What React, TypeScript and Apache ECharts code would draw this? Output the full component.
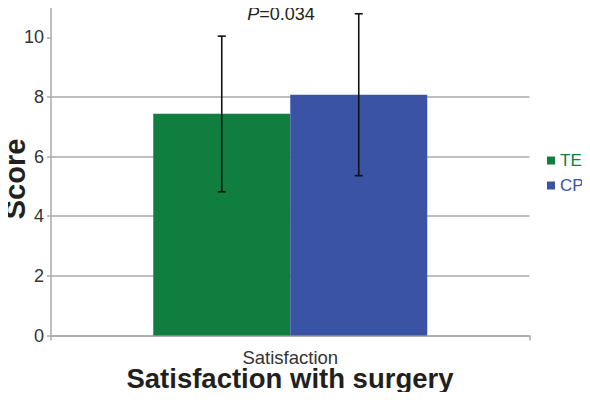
import React, { useEffect, useRef } from "react";
import * as echarts from "echarts";

const categories = ["Satisfaction"];
const seriesNames = ["TE", "CP"];
const means = [7.44, 8.07];
const lows = [4.82, 5.36];
const highs = [10.04, 10.79];
const yTicks = [0, 2, 4, 6, 8, 10];
const colors = ["#0F7E3F", "#3A53A4"];

const BAR_W = 137;

export default function App() {
  const ref = useRef<HTMLDivElement>(null);
  useEffect(() => {
    if (!ref.current) return;
    const chart = echarts.init(ref.current, null, { renderer: "svg" });
    const font = "'Liberation Sans', Arial, Helvetica, sans-serif";
    const barSeries = seriesNames.map((name, i) => ({
      name,
      type: "bar",
      data: [means[i]],
      barWidth: BAR_W,
      barGap: "0%",
      itemStyle: { color: colors[i] },
      z: 2,
    }));
    const errSeries = seriesNames.map((name, i) => ({
      name: name + "_err",
      type: "custom",
      z: 5,
      data: [[0, lows[i], highs[i]]],
      renderItem: (params: any, api: any) => {
        const off = (i === 0 ? -1 : 1) * BAR_W / 2;
        const lo = api.coord([api.value(0), api.value(1)]);
        const hi = api.coord([api.value(0), api.value(2)]);
        const x = lo[0] + off;
        const cap = 4;
        const style = { stroke: "#111", lineWidth: 1.6 };
        return {
          type: "group",
          children: [
            { type: "line", shape: { x1: x, y1: lo[1], x2: x, y2: hi[1] }, style },
            { type: "line", shape: { x1: x - cap, y1: lo[1], x2: x + cap, y2: lo[1] }, style },
            { type: "line", shape: { x1: x - cap, y1: hi[1], x2: x + cap, y2: hi[1] }, style },
          ],
        };
      },
    }));
    chart.setOption({
      animation: false,
      textStyle: { fontFamily: font },
      grid: { left: 51, right: 60.5, top: 7.5, bottom: 64.5, containLabel: false, outerBoundsMode: "none" },
      legend: {
        orient: "vertical",
        left: 542,
        top: 147,
        itemWidth: 8,
        itemHeight: 8,
        itemGap: 8,
        icon: "rect",
        data: [
          { name: "TE", textStyle: { color: colors[0] } },
          { name: "CP", textStyle: { color: colors[1] } },
        ],
        textStyle: { fontSize: 17, fontFamily: font },
      },
      xAxis: {
        type: "category",
        data: categories,
        axisLine: { lineStyle: { color: "#AAAAAA", width: 1.5 } },
        axisTick: { show: true, length: 5, lineStyle: { color: "#AAAAAA", width: 1.5 } },
        axisLabel: { fontSize: 18.5, lineHeight: 18, color: "#333", margin: 13, fontFamily: font },
      },
      yAxis: {
        type: "value",
        min: 0,
        max: 11,
        interval: 2,
        axisLine: { show: true, lineStyle: { color: "#AAAAAA", width: 1.5 } },
        axisTick: { show: true, length: 4, customValues: yTicks, lineStyle: { color: "#AAAAAA", width: 1.5 } },
        axisLabel: { fontSize: 18, color: "#333", margin: 7, customValues: yTicks, fontFamily: font },
        splitLine: { show: true, showMaxLine: false, lineStyle: { color: "#AAAAAA", width: 1.5 } },
      },
      graphic: [
        {
          type: "text",
          x: 15,
          y: 179,
          rotation: Math.PI / 2,
          style: {
            text: "Score",
            align: "center",
            verticalAlign: "middle",
            fontSize: 29,
            fontWeight: "bold",
            fill: "#231F20",
            fontFamily: font,
          },
        },
        {
          type: "text",
          x: 290,
          y: 378,
          style: {
            text: "Satisfaction with surgery",
            align: "center",
            verticalAlign: "middle",
            fontSize: 27.5,
            lineHeight: 24,
            fontWeight: "bold",
            fill: "#231F20",
            fontFamily: font,
          },
        },
        {
          type: "text",
          x: 281,
          y: 5,
          style: {
            text: "{i|P}{n|=0.034}",
            align: "center",
            verticalAlign: "top",
            fontFamily: font,
            rich: {
              i: { fontStyle: "italic", fontSize: 18, fill: "#231F20", fontFamily: font },
              n: { fontSize: 18, fill: "#231F20", fontFamily: font },
            },
          },
        },
      ],
      series: [...barSeries, ...errSeries],
    });
    return () => chart.dispose();
  }, []);
  return <div ref={ref} style={{ width: 590, height: 400, margin: -8 }} />;
}
